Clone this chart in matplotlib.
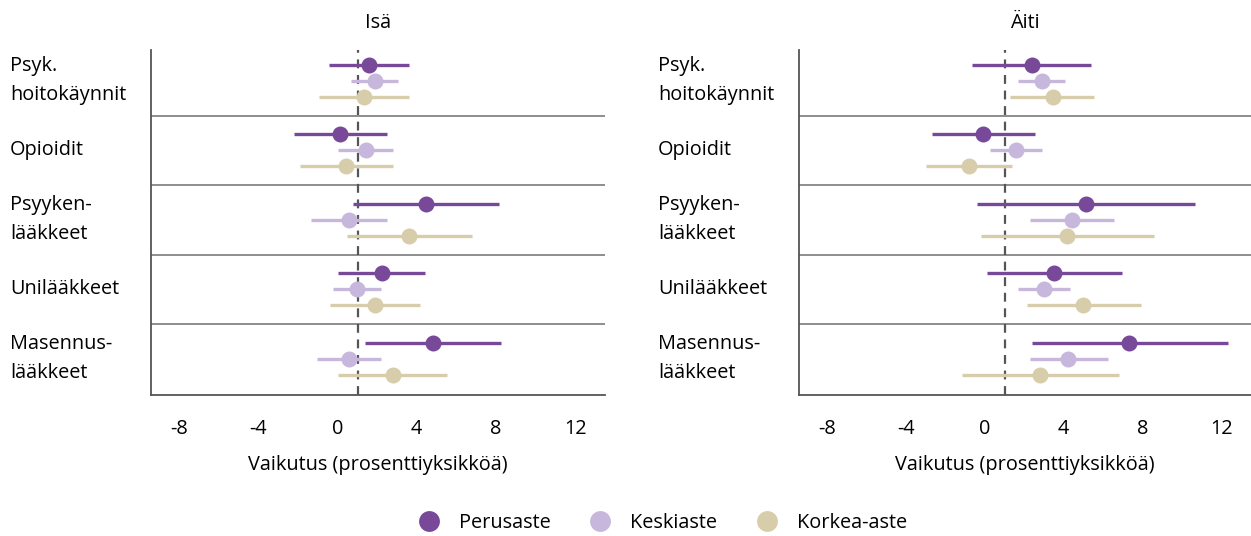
import matplotlib.pyplot as plt
from matplotlib.lines import Line2D
import matplotlib.transforms as mtransforms

plt.rcParams['font.family'] = ['Open Sans', 'DejaVu Sans']

categories = ["Psyk.\nhoitokäynnit", "Opioidit", "Psyyken-\nlääkkeet",
              "Unilääkkeet", "Masennus-\nlääkkeet"]
groups = ["Perusaste", "Keskiaste", "Korkea-aste"]
panels = ["Isä", "Äiti"]
ref_value = 1.05

# point estimates, lower and upper limits per panel, group and category
isa_est = [[1.58, 0.15, 4.47, 2.23, 4.80],
           [1.88, 1.43, 0.59, 0.99, 0.59],
           [1.33, 0.45, 3.61, 1.90, 2.80]]
isa_low = [[-0.42, -2.18, 0.81, 0.05, 1.38],
           [0.71, 0.05, -1.31, -0.24, -1.04],
           [-0.92, -1.88, 0.47, -0.37, 0.05]]
isa_high = [[3.59, 2.50, 8.13, 4.43, 8.26],
            [3.04, 2.79, 2.50, 2.22, 2.22],
            [3.59, 2.79, 6.80, 4.17, 5.53]]

aiti_est = [[2.38, -0.07, 5.13, 3.51, 7.33],
            [2.89, 1.57, 4.41, 3.02, 4.25],
            [3.46, -0.78, 4.19, 5.01, 2.80]]
aiti_low = [[-0.62, -2.67, -0.39, 0.12, 2.38],
            [1.72, 0.27, 2.28, 1.72, 2.28],
            [1.30, -2.97, -0.20, 2.14, -1.16]]
aiti_high = [[5.40, 2.55, 10.68, 6.97, 12.32],
             [4.07, 2.89, 6.57, 4.35, 6.26],
             [5.57, 1.40, 8.61, 7.92, 6.82]]

xticks = [-8, -4, 0, 4, 8, 12]
colors = ["#784899", "#C7B7DC", "#D8CDAA"]
offsets = [-0.23, 0.0, 0.23]
fs = 14.3

fig = plt.figure(figsize=(12.51, 5.36), dpi=100)
ax_left = fig.add_axes([0.1207, 0.263, 0.3629, 0.6437])
ax_right = fig.add_axes([0.6387, 0.263, 0.3613, 0.6437])

data = [(isa_est, isa_low, isa_high), (aiti_est, aiti_low, aiti_high)]
label_x = [10 / 1251, 658 / 1251]

for ax, title, (est, low, high), lx in zip([ax_left, ax_right], panels, data, label_x):
    ax.axvline(ref_value, color="#555555", lw=1.6, ls=(0, (4, 3)), zorder=1)
    for i in range(1, len(categories)):
        ax.axhline(i - 0.5, color="#7a7a7a", lw=1.2, zorder=0)
    for g in range(len(groups)):
        for c in range(len(categories)):
            y = c + offsets[g]
            ax.plot([low[g][c], high[g][c]], [y, y], color=colors[g],
                    lw=2.4, solid_capstyle="butt", zorder=2)
            ax.plot(est[g][c], y, "o", color=colors[g], ms=11.5,
                    mec="none", zorder=3)

    ax.set_xlim(-9.4, 13.5)
    ax.set_ylim(4.52, -0.446)
    ax.set_xticks(xticks)
    ax.set_xticklabels([str(t) for t in xticks], fontsize=fs)
    ax.tick_params(axis="x", length=0, pad=17)
    ax.set_yticks([])
    for side in ["top", "right"]:
        ax.spines[side].set_visible(False)
    for side in ["left", "bottom"]:
        ax.spines[side].set_color("#555555")
        ax.spines[side].set_linewidth(1.3)
    ax.set_xlabel("Vaikutus (prosenttiyksikköä)", fontsize=fs, labelpad=12)
    ax.set_title(title, fontsize=fs, pad=16)

    trans = mtransforms.blended_transform_factory(fig.transFigure, ax.transData)
    for c, cat in enumerate(categories):
        fig.text(lx, c, cat, transform=trans, ha="left", va="center",
                 fontsize=fs, linespacing=1.6)

handles = [Line2D([], [], ls="none", marker="o", ms=15, color=col, mec="none")
           for col in colors]
fig.legend(handles, groups, loc="center", bbox_to_anchor=(0.526, 0.024),
           ncol=3, frameon=False, fontsize=fs, handletextpad=0.5,
           columnspacing=1.5)

fig.savefig("out.png", dpi=100)
